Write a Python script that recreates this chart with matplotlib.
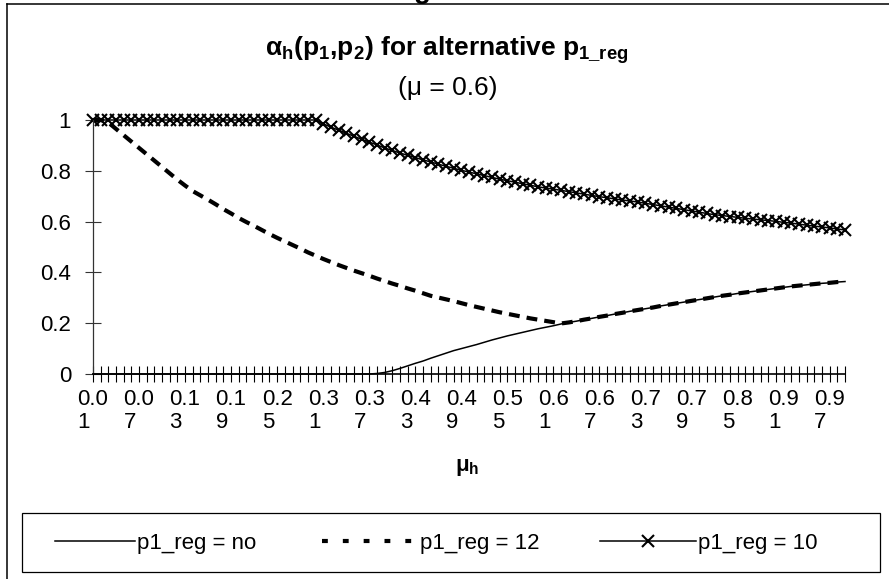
import numpy as np
import matplotlib
matplotlib.use('Agg')
import matplotlib.pyplot as plt
from matplotlib.lines import Line2D
from matplotlib.patches import Rectangle

plt.rcParams['font.family'] = ['Liberation Sans', 'DejaVu Sans']
plt.rcParams['mathtext.fontset'] = 'custom'
plt.rcParams['mathtext.rm'] = 'Liberation Sans'
plt.rcParams['mathtext.bf'] = 'Liberation Sans:bold'
plt.rcParams['mathtext.it'] = 'Liberation Sans:italic'

#categories on the x axis (mu_h = 0.01 ... 0.99)
mu_h = [round(0.01 * k, 2) for k in range(1, 100)]

#series
p1_reg_no = [
    0, 0, 0, 0, 0, 0, 0, 0, 0, 0,
    0, 0, 0, 0, 0, 0, 0, 0, 0, 0,
    0, 0, 0, 0, 0, 0, 0, 0, 0, 0,
    0, 0, 0, 0, 0, 0, 0, 0.002, 0.006, 0.013,
    0.022, 0.032, 0.042, 0.051, 0.062, 0.072, 0.082, 0.092, 0.100, 0.108,
    0.116, 0.125, 0.134, 0.142, 0.150, 0.157, 0.164, 0.171, 0.178, 0.184,
    0.190, 0.197, 0.203, 0.208, 0.214, 0.219, 0.225, 0.230, 0.236, 0.241,
    0.247, 0.252, 0.257, 0.262, 0.268, 0.273, 0.278, 0.283, 0.288, 0.293,
    0.298, 0.303, 0.308, 0.312, 0.317, 0.321, 0.325, 0.329, 0.333, 0.337,
    0.341, 0.345, 0.348, 0.351, 0.354, 0.357, 0.359, 0.362, 0.364,
]

p1_reg_12 = [
    1.0, 1.0, 0.99, 0.965, 0.94, 0.915, 0.89, 0.865, 0.84, 0.815,
    0.79, 0.765, 0.742, 0.72, 0.703, 0.686, 0.668, 0.649, 0.632, 0.614,
    0.598, 0.583, 0.567, 0.551, 0.536, 0.522, 0.508, 0.494, 0.479, 0.466,
    0.453, 0.441, 0.429, 0.418, 0.407, 0.397, 0.387, 0.376, 0.366, 0.356,
    0.347, 0.337, 0.328, 0.318, 0.308, 0.301, 0.294, 0.287, 0.279, 0.271,
    0.264, 0.257, 0.250, 0.243, 0.237, 0.231, 0.225, 0.219, 0.214, 0.209,
    0.204, 0.199, 0.203, 0.208, 0.214, 0.219, 0.225, 0.230, 0.236, 0.241,
    0.247, 0.252, 0.257, 0.262, 0.268, 0.273, 0.278, 0.283, 0.288, 0.293,
    0.298, 0.303, 0.308, 0.312, 0.317, 0.321, 0.325, 0.329, 0.333, 0.337,
    0.341, 0.345, 0.348, 0.351, 0.354, 0.357, 0.359, 0.362, 0.364,
]

p1_reg_10 = [
    1.0, 1.0, 1.0, 1.0, 1.0, 1.0, 1.0, 1.0, 1.0, 1.0,
    1.0, 1.0, 1.0, 1.0, 1.0, 1.0, 1.0, 1.0, 1.0, 1.0,
    1.0, 1.0, 1.0, 1.0, 1.0, 1.0, 1.0, 1.0, 1.0, 1.0,
    0.985, 0.972, 0.960, 0.948, 0.936, 0.924, 0.913, 0.902, 0.890, 0.880,
    0.870, 0.861, 0.852, 0.843, 0.835, 0.826, 0.818, 0.810, 0.802, 0.795,
    0.788, 0.781, 0.774, 0.767, 0.761, 0.755, 0.749, 0.743, 0.737, 0.732,
    0.728, 0.723, 0.718, 0.713, 0.708, 0.703, 0.698, 0.694, 0.689, 0.685,
    0.681, 0.677, 0.672, 0.667, 0.662, 0.657, 0.652, 0.647, 0.642, 0.637,
    0.632, 0.627, 0.624, 0.620, 0.617, 0.613, 0.610, 0.607, 0.604, 0.601,
    0.597, 0.594, 0.590, 0.586, 0.582, 0.579, 0.575, 0.571, 0.567,
]

series_labels = ['p1_reg = no', 'p1_reg = 12', 'p1_reg = 10']
y_ticks = [0, 0.2, 0.4, 0.6, 0.8, 1]
y_tick_labels = ['0', '0.2', '0.4', '0.6', '0.8', '1']
label_every = 6

W, H = 889, 579
fig = plt.figure(figsize=(W / 100, H / 100), dpi=100)
ax = fig.add_axes([93 / W, 1 - 374 / H, 752 / W, 254 / H])

x = np.arange(len(mu_h))
l_no, = ax.plot(x, p1_reg_no, color='black', lw=1.1, clip_on=False)
l_12, = ax.plot(x, p1_reg_12, color='black', lw=3, dashes=(2.6, 1.7),
                dash_capstyle='butt', clip_on=False)
l_10, = ax.plot(x, p1_reg_10, color='black', lw=1.1, marker='x',
                markersize=8, markeredgewidth=1.5, clip_on=False)

ax.set_xlim(0, len(mu_h) - 1)
ax.set_ylim(0, 1)

#category ticks, label on every 6th one, wrapped like excel does
xlabels = []
for i, m in enumerate(mu_h):
    s = f'{m:.2f}'
    xlabels.append(s[:3] + '\n' + s[3:] if i % label_every == 0 else '')
ax.set_xticks(x)
ax.set_xticklabels(xlabels, fontsize=16, linespacing=1.1)
for lbl in ax.get_xticklabels():
    lbl.set_multialignment('left')
ax.set_yticks(y_ticks)
ax.set_yticklabels(y_tick_labels, fontsize=16)
ax.tick_params(axis='x', direction='inout', length=11.5, width=0.8, pad=5)
ax.tick_params(axis='y', direction='inout', length=11.5, width=0.8,
               pad=10, color='#333333')

for side in ['top', 'right']:
    ax.spines[side].set_visible(False)
ax.spines['left'].set_linewidth(0.9)
ax.spines['left'].set_color('#333333')
ax.spines['bottom'].set_linewidth(1.2)

#titles
fig.text(447 / W, 1 - 50 / H,
         r'$\mathbf{\alpha_h(p_1{,}p_2)\ for\ alternative\ p_{1\_reg}}$',
         fontsize=19, ha='center', va='center')
fig.text(448 / W, 1 - 88 / H, '(\u03bc = 0.6)', fontsize=19,
         ha='center', va='center')
fig.text(467 / W, 1 - 467 / H, r'$\mathbf{\mu_h}$', fontsize=16,
         ha='center', va='center')

#cut-off heading letter above the chart
fig.text(422 / W, 1 + 2 / H, 'g', fontsize=20, fontweight='bold',
         ha='center', va='baseline')

#legend: frame plus one entry per slot, like excel spreads them
fig.add_artist(Rectangle((22 / W, 1 - 572 / H), 858 / W, 59 / H,
                         transform=fig.transFigure, fill=False,
                         edgecolor='black', lw=0.9))
h_12 = Line2D([], [], color='black', lw=3, dashes=(1.4, 3.6),
              dash_capstyle='butt')
handles = [l_no, h_12, l_10]
starts = [55, 322, 600]
hlens = [3.6, 4.3, 4.3]
for h, lab, x0, hl in zip(handles, series_labels, starts, hlens):
    fig.legend([h], [lab], loc='center left',
               bbox_to_anchor=(x0 / W, 1 - 543 / H), frameon=False,
               fontsize=16, handlelength=hl, handletextpad=0.1,
               borderpad=0, borderaxespad=0)

#outer chart border
fig.add_artist(Line2D([7 / W, 7 / W], [0, 1 - 4 / H], color='black',
                      lw=1.1, transform=fig.transFigure))
fig.add_artist(Line2D([7 / W, 1], [1 - 4 / H, 1 - 4 / H], color='black',
                      lw=1.1, transform=fig.transFigure))

fig.savefig('out.png', dpi=100)
